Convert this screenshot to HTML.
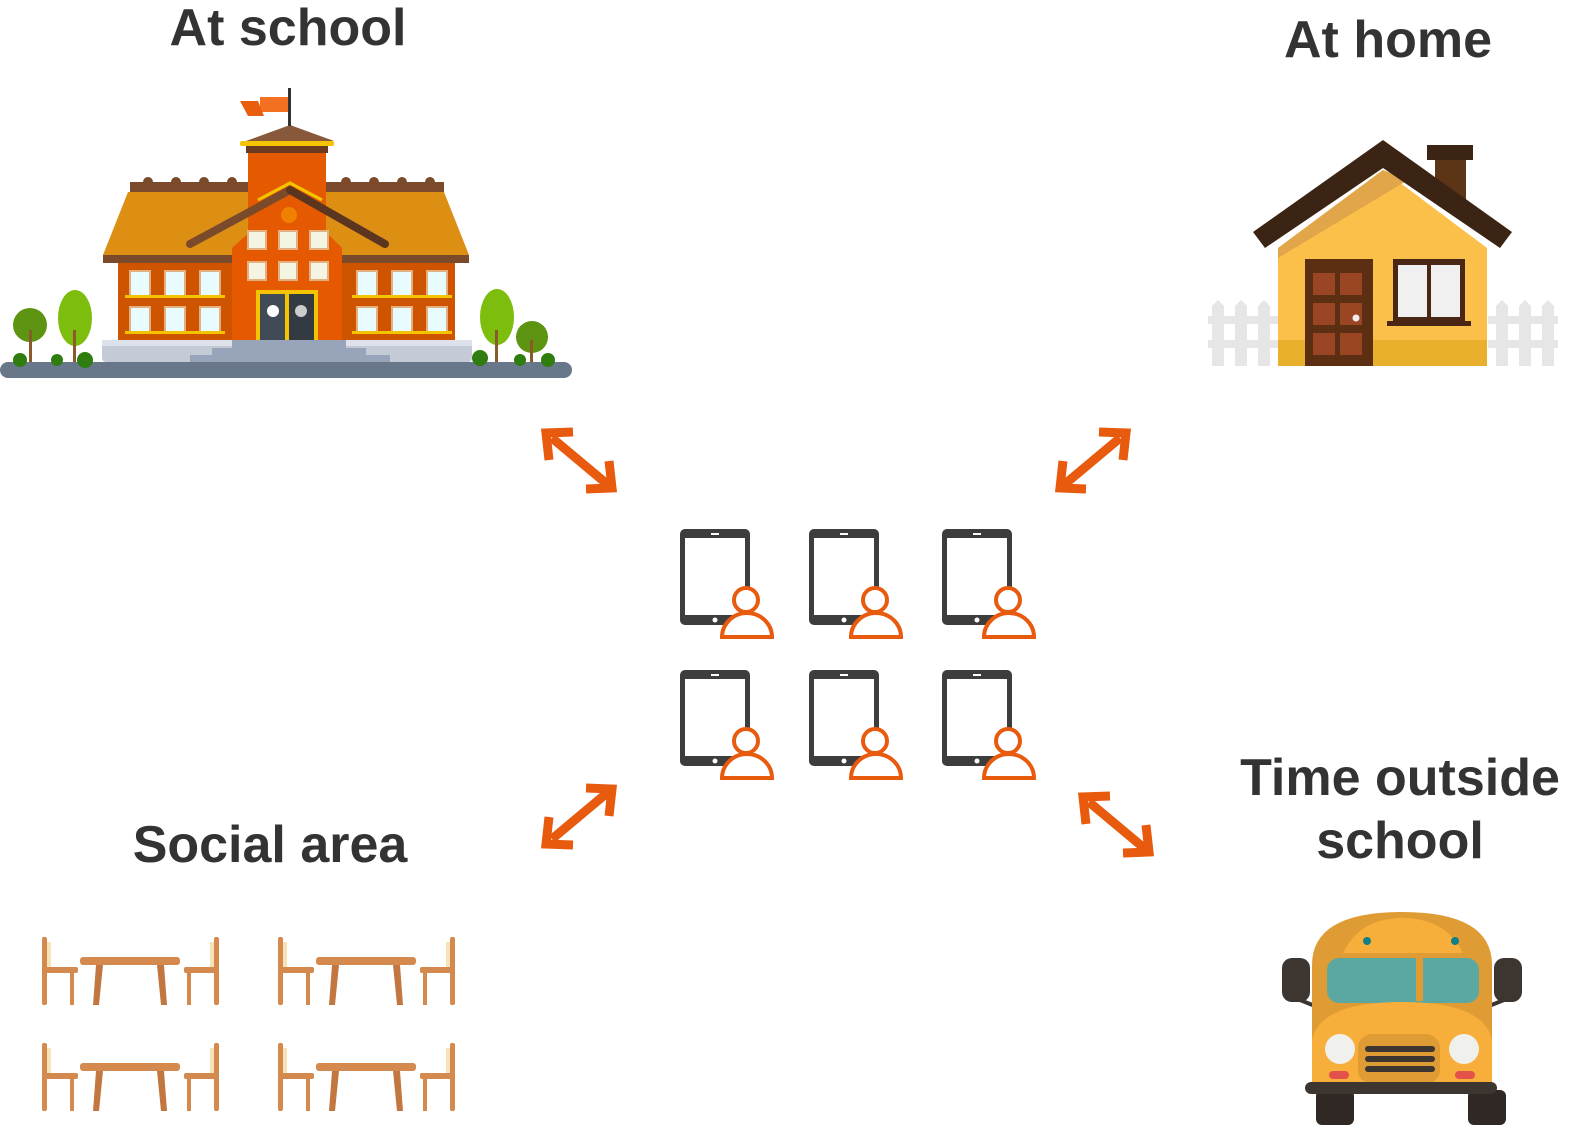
<!DOCTYPE html>
<html><head><meta charset="utf-8"><style>
html,body{margin:0;padding:0;background:#fff;overflow:hidden;width:1588px;height:1140px;}
svg{display:block}
text{font-family:"Liberation Sans",sans-serif;font-weight:bold;fill:#333;}
</style></head><body>
<svg width="1588" height="1140" viewBox="0 0 1588 1140" xmlns="http://www.w3.org/2000/svg">
<defs>
<g id="tab">
 <rect x="680" y="529" width="70" height="96" rx="5" fill="#3d3d3d"/>
 <rect x="685" y="538" width="60" height="77" fill="#fff"/>
 <rect x="711" y="533" width="8" height="2" fill="#fff"/>
 <circle cx="715" cy="620" r="2.5" fill="#fff"/>
 <path d="M722,637 A25,24 0 0 1 772,637 Z" fill="#fff" stroke="#e85a0e" stroke-width="4"/>
 <circle cx="746" cy="600" r="12" fill="#fff" stroke="#e85a0e" stroke-width="4"/>
</g>
<g id="tbl">
 <rect x="42" y="937" width="5" height="68" rx="2" fill="#d4894f"/>
 <rect x="47" y="942" width="4" height="25" fill="#f6e3b8"/>
 <rect x="42" y="967" width="36" height="6" rx="2" fill="#d4894f"/>
 <rect x="70" y="973" width="4" height="32" fill="#d4894f"/>
 <rect x="80" y="957" width="100" height="8" rx="3" fill="#d4894f"/>
 <polygon points="96,965 103,965 99,1005 93,1005" fill="#c27740"/>
 <polygon points="157,965 164,965 167,1005 161,1005" fill="#c27740"/>
 <rect x="214" y="937" width="5" height="68" rx="2" fill="#d4894f"/>
 <rect x="210" y="942" width="4" height="25" fill="#f6e3b8"/>
 <rect x="184" y="967" width="35" height="6" rx="2" fill="#d4894f"/>
 <rect x="187" y="973" width="4" height="32" fill="#d4894f"/>
</g>
<g id="arr" fill="none" stroke="#e85a0e" stroke-width="9">
 <line x1="552" y1="438" x2="607" y2="484"/>
 <polyline points="573,432 546,433 549,460" stroke-linejoin="miter"/>
 <polyline points="586,489 612,488 609,461" stroke-linejoin="miter"/>
</g>
</defs>

<text x="288" y="45" font-size="52" text-anchor="middle">At school</text>
<text x="1388" y="57" font-size="52" text-anchor="middle">At home</text>
<text x="270" y="862" font-size="52" text-anchor="middle">Social area</text>
<text x="1400" y="795" font-size="52" text-anchor="middle">Time outside</text>
<text x="1400" y="858" font-size="52" text-anchor="middle">school</text>

<!-- School -->
<g>
 <rect x="0" y="362" width="572" height="16" rx="8" fill="#68778a"/>
 <circle cx="30" cy="325" r="17" fill="#5d9411"/><rect x="29" y="330" width="3" height="32" fill="#8b5a2b"/>
 <ellipse cx="75" cy="318" rx="17" ry="28" fill="#7cbd0e"/><rect x="73" y="330" width="3" height="32" fill="#8b5a2b"/>
 <circle cx="20" cy="360" r="7" fill="#2e7d0e"/><circle cx="57" cy="360" r="6" fill="#2e7d0e"/><circle cx="85" cy="360" r="8" fill="#2e7d0e"/>
 <ellipse cx="497" cy="317" rx="17" ry="28" fill="#7cbd0e"/><rect x="495" y="330" width="3" height="32" fill="#8b5a2b"/>
 <circle cx="532" cy="337" r="16" fill="#5d9411"/><rect x="530" y="340" width="3" height="22" fill="#8b5a2b"/>
 <circle cx="480" cy="358" r="8" fill="#2e7d0e"/><circle cx="520" cy="360" r="6" fill="#2e7d0e"/><circle cx="548" cy="360" r="7" fill="#2e7d0e"/>
 <rect x="102" y="340" width="370" height="22" rx="4" fill="#c5cbd6"/>
 <rect x="102" y="340" width="370" height="6" fill="#dde2ea"/>
 <rect x="232" y="340" width="114" height="8" fill="#98a4ba"/>
 <rect x="212" y="348" width="154" height="7" fill="#98a4ba"/>
 <rect x="190" y="355" width="200" height="7" fill="#98a4ba"/>
 <rect x="118" y="262" width="337" height="78" fill="#cf5400"/>
 <polygon points="128,192 444,192 469,255 103,255" fill="#dd8f14"/>
 <rect x="103" y="255" width="366" height="8" fill="#7a4a2a"/>
 <rect x="130" y="182" width="314" height="10" fill="#7a4a2a"/>
 <g fill="#7a4a2a"><circle cx="148" cy="182" r="5"/><circle cx="176" cy="182" r="5"/><circle cx="204" cy="182" r="5"/><circle cx="232" cy="182" r="5"/><circle cx="346" cy="182" r="5"/><circle cx="374" cy="182" r="5"/><circle cx="402" cy="182" r="5"/><circle cx="430" cy="182" r="5"/></g>
 <rect x="248" y="152" width="78" height="110" fill="#e55a00"/>
 <rect x="246" y="145" width="82" height="8" fill="#6b3a1e"/>
 <rect x="240" y="141" width="94" height="5" rx="2" fill="#f5c400"/>
 <polygon points="246,141 290,125 334,141" fill="#87583a"/>
 <rect x="288" y="88" width="3" height="38" fill="#333"/>
 <polygon points="260,97 288,97 288,112 260,112" fill="#f37021"/>
 <polygon points="240,101 258,101 264,116 248,116" fill="#e85e0c"/>
 <polygon points="232,248 290,196 342,248 342,340 232,340" fill="#e55a00"/>
 <line x1="190" y1="244" x2="290" y2="190" stroke="#7a4a2a" stroke-width="8" stroke-linecap="round"/>
 <line x1="290" y1="190" x2="385" y2="244" stroke="#5c3520" stroke-width="8" stroke-linecap="round"/>
 <polyline points="258,200 290,183 322,200" fill="none" stroke="#f5c400" stroke-width="3"/>
 <circle cx="289" cy="215" r="8" fill="#f08000"/>
 <g fill="#f4f4e2" stroke="#e4b080" stroke-width="2">
  <rect x="248" y="231" width="18" height="18"/><rect x="279" y="231" width="18" height="18"/><rect x="310" y="231" width="18" height="18"/>
  <rect x="248" y="262" width="18" height="18"/><rect x="279" y="262" width="18" height="18"/><rect x="310" y="262" width="18" height="18"/>
 </g>
 <g fill="#e8fcff" stroke="#e4b080" stroke-width="2">
  <rect x="130" y="271" width="20" height="25"/><rect x="165" y="271" width="20" height="25"/><rect x="200" y="271" width="20" height="25"/>
  <rect x="130" y="307" width="20" height="25"/><rect x="165" y="307" width="20" height="25"/><rect x="200" y="307" width="20" height="25"/>
  <rect x="357" y="271" width="20" height="25"/><rect x="392" y="271" width="20" height="25"/><rect x="427" y="271" width="20" height="25"/>
  <rect x="357" y="307" width="20" height="25"/><rect x="392" y="307" width="20" height="25"/><rect x="427" y="307" width="20" height="25"/>
 </g>
 <g fill="#f5c400"><rect x="125" y="295" width="100" height="3"/><rect x="125" y="331" width="100" height="3"/><rect x="352" y="295" width="100" height="3"/><rect x="352" y="331" width="100" height="3"/></g>
 <rect x="256" y="290" width="62" height="50" fill="#f5c400"/>
 <rect x="260" y="294" width="25" height="46" fill="#404b55"/><rect x="289" y="294" width="25" height="46" fill="#333a42"/>
 <circle cx="273" cy="311" r="6" fill="#fff"/><circle cx="301" cy="311" r="6" fill="#ccc"/>
</g>

<!-- House -->
<g>
 <g fill="#e6e6e6">
  <rect x="1208" y="316" width="70" height="8"/><rect x="1208" y="340" width="70" height="8"/>
  <polygon points="1212,306 1218,300 1224,306 1224,366 1212,366"/>
  <polygon points="1235,306 1241,300 1247,306 1247,366 1235,366"/>
  <polygon points="1258,306 1264,300 1270,306 1270,366 1258,366"/>
  <rect x="1488" y="316" width="70" height="8"/><rect x="1488" y="340" width="70" height="8"/>
  <polygon points="1496,306 1502,300 1508,306 1508,366 1496,366"/>
  <polygon points="1519,306 1525,300 1531,306 1531,366 1519,366"/>
  <polygon points="1542,306 1548,300 1554,306 1554,366 1542,366"/>
 </g>
 <rect x="1435" y="158" width="31" height="45" fill="#5c3416"/>
 <rect x="1427" y="145" width="46" height="15" fill="#3c2414"/>
 <polygon points="1278,248 1383,170 1487,248 1487,366 1278,366" fill="#fbc04a"/>
 <polygon points="1278,248 1383,170 1408,180 1278,258" fill="#e2a64a"/>
 <rect x="1278" y="340" width="209" height="26" fill="#e8b02c"/>
 <polygon points="1253,232 1383,140 1512,232 1500,248 1383,168 1265,248" fill="#3c2414"/>
 <rect x="1305" y="259" width="68" height="107" fill="#5c2f12"/>
 <g fill="#9a4624"><rect x="1313" y="273" width="22" height="22"/><rect x="1340" y="273" width="22" height="22"/><rect x="1313" y="303" width="22" height="22"/><rect x="1340" y="303" width="22" height="22"/><rect x="1313" y="333" width="22" height="22"/><rect x="1340" y="333" width="22" height="22"/></g>
 <circle cx="1356" cy="318" r="3.5" fill="#eee"/>
 <rect x="1393" y="259" width="72" height="62" fill="#4a2614"/>
 <rect x="1398" y="265" width="29" height="52" fill="#f0f0f0"/><rect x="1431" y="265" width="29" height="52" fill="#f0f0f0"/>
 <rect x="1387" y="321" width="84" height="5" fill="#4a2614"/>
</g>

<!-- Tablets -->
<use href="#tab"/>
<use href="#tab" transform="translate(129,0)"/>
<use href="#tab" transform="translate(262,0)"/>
<use href="#tab" transform="translate(0,141)"/>
<use href="#tab" transform="translate(129,141)"/>
<use href="#tab" transform="translate(262,141)"/>

<!-- Arrows -->
<use href="#arr"/>
<use href="#arr" transform="translate(1672,0) scale(-1,1)"/>
<use href="#arr" transform="translate(0,1277) scale(1,-1)"/>
<use href="#arr" transform="translate(537,364)"/>

<!-- Tables -->
<use href="#tbl"/>
<use href="#tbl" transform="translate(236,0)"/>
<use href="#tbl" transform="translate(0,106)"/>
<use href="#tbl" transform="translate(236,106)"/>

<!-- Bus -->
<g>
 <rect x="1282" y="958" width="28" height="44" rx="10" fill="#3d3530"/>
 <rect x="1494" y="958" width="28" height="44" rx="10" fill="#3d3530"/>
 <line x1="1300" y1="1000" x2="1320" y2="1008" stroke="#3d3530" stroke-width="4"/>
 <line x1="1504" y1="1000" x2="1484" y2="1008" stroke="#3d3530" stroke-width="4"/>
 <rect x="1316" y="1090" width="38" height="35" rx="6" fill="#2f2824"/>
 <rect x="1468" y="1090" width="38" height="35" rx="6" fill="#2f2824"/>
 <path d="M1312,965 Q1312,912 1402,912 Q1492,912 1492,965 L1492,1092 L1312,1092 Z" fill="#df9c35"/>
 <path d="M1343,953 Q1360,918 1402,918 Q1446,918 1463,953 Z" fill="#f7ae3a"/>
 <circle cx="1367" cy="941" r="4" fill="#117f86"/>
 <circle cx="1455" cy="941" r="4" fill="#117f86"/>
 <rect x="1327" y="958" width="152" height="45" rx="12" fill="#5ba8a2"/>
 <rect x="1416" y="956" width="7" height="45" fill="#df9c35"/>
 <path d="M1312,1040 Q1320,1002 1402,1002 Q1484,1002 1492,1040 L1492,1086 L1312,1086 Z" fill="#f7ae3a"/>
 <rect x="1358" y="1034" width="82" height="50" rx="14" fill="#df9c35"/>
 <g fill="#3d3530"><rect x="1365" y="1046" width="70" height="6" rx="3"/><rect x="1365" y="1056" width="70" height="6" rx="3"/><rect x="1365" y="1066" width="70" height="6" rx="3"/></g>
 <circle cx="1340" cy="1049" r="15" fill="#f0f0ec"/><circle cx="1464" cy="1049" r="15" fill="#f0f0ec"/>
 <rect x="1329" y="1071" width="20" height="8" rx="4" fill="#e4504a"/><rect x="1455" y="1071" width="20" height="8" rx="4" fill="#e4504a"/>
 <rect x="1305" y="1082" width="192" height="12" rx="6" fill="#3d3530"/>
</g>
</svg>
</body></html>
